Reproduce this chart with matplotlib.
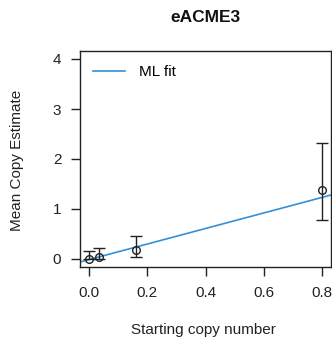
import matplotlib
matplotlib.use("Agg")
import matplotlib.pyplot as plt
import numpy as np

plt.rcParams['font.family'] = ['Liberation Sans', 'DejaVu Sans']

# Data
start_copy = [0.0, 0.032, 0.16, 0.8]
mean_est = [0.01, 0.05, 0.19, 1.39]
err_low = [0.0, 0.0, 0.05, 0.78]
err_high = [0.16, 0.23, 0.47, 2.32]
fit_slope = 1.55
fit_intercept = -0.01
xticks = [0.0, 0.2, 0.4, 0.6, 0.8]
yticks = [0, 1, 2, 3, 4]

W, H = 332, 344
fig = plt.figure(figsize=(W / 100, H / 100), dpi=100)
ax = fig.add_axes([80 / W, 77 / H, 251 / W, 216 / H])

xlim = (-0.032, 0.832)
ylim = (-0.16, 4.16)

xs = np.array(xlim)
ax.plot(xs, fit_intercept + fit_slope * xs, color='#3590d4', lw=1.2, label='ML fit', zorder=2)

y = np.array(mean_est)
yerr = np.vstack([y - np.array(err_low), np.array(err_high) - y])
ax.errorbar(start_copy, mean_est, yerr=yerr, fmt='o', mfc='none', mec='#222222',
            ms=5.5, mew=1.0, ecolor='#222222', elinewidth=1.0, capsize=4.2,
            capthick=1.0, zorder=3)

ax.set_xlim(*xlim)
ax.set_ylim(*ylim)
ax.set_xticks(xticks)
ax.set_xticklabels(['0.0', '0.2', '0.4', '0.6', '0.8'])
ax.set_yticks(yticks)
ax.set_yticklabels([str(v) for v in yticks])
ax.tick_params(direction='out', length=6.5, width=1.0, labelsize=11, pad=7, colors='#222222')
for s in ax.spines.values():
    s.set_linewidth(1.0)
    s.set_color('#222222')

leg = ax.legend(loc='upper left', frameon=False, fontsize=11, handlelength=2.1,
                handletextpad=0.9, borderaxespad=0.3, bbox_to_anchor=(0.01, 0.985))

fig.text(205.5 / W, 1 - 17.5 / H, 'eACME3', ha='center', va='center',
         fontsize=12.5, fontweight='bold', color='#111111')
fig.text(203 / W, 1 - 330 / H, 'Starting copy number', ha='center', va='center',
         fontsize=11, color='#222222')
fig.text(17 / W, 1 - 160 / H, 'Mean Copy Estimate', ha='center', va='center',
         rotation=90, fontsize=11, color='#222222')

fig.savefig('out.png', dpi=100)
